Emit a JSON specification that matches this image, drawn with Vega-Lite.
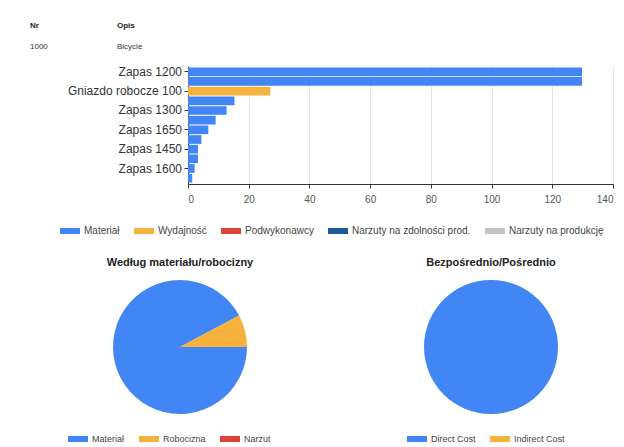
{
  "$schema": "https://vega.github.io/schema/vega-lite/v6.json",
  "background": "white",
  "padding": {"left": 30, "top": 22, "right": 0, "bottom": 0},
  "config": {
    "font": "Liberation Sans",
    "view": {"stroke": null},
    "title": {"font": "Liberation Sans", "fontSize": 11, "fontWeight": "bold", "color": "#222"},
    "legend": {
      "labelFont": "Liberation Sans",
      "labelColor": "#444",
      "symbolType": "M-1,-0.3H1V0.3H-1Z",
      "symbolSize": 400,
      "symbolStrokeWidth": 0,
      "symbolOpacity": 1,
      "labelOffset": 4
    }
  },
  "datasets": {
    "koszty": [
      {"nazwa": "Zapas 1200", "typ": "Materiał", "wartosc": 129.8},
      {"nazwa": "Zapas 1100", "typ": "Materiał", "wartosc": 129.8},
      {"nazwa": "Gniazdo robocze 100", "typ": "Wydajność", "wartosc": 27.1},
      {"nazwa": "Zapas 1700", "typ": "Materiał", "wartosc": 15.3},
      {"nazwa": "Zapas 1300", "typ": "Materiał", "wartosc": 12.7},
      {"nazwa": "Zapas 1800", "typ": "Materiał", "wartosc": 9.1},
      {"nazwa": "Zapas 1650", "typ": "Materiał", "wartosc": 6.7},
      {"nazwa": "Zapas 1400", "typ": "Materiał", "wartosc": 4.4},
      {"nazwa": "Zapas 1450", "typ": "Materiał", "wartosc": 3.3},
      {"nazwa": "Zapas 1500", "typ": "Materiał", "wartosc": 3.3},
      {"nazwa": "Zapas 1600", "typ": "Materiał", "wartosc": 2.2},
      {"nazwa": "Zapas 1900", "typ": "Materiał", "wartosc": 1.4}
    ]
  },
  "spacing": 21,
  "resolve": {
    "scale": {"x": "independent", "y": "independent", "color": "independent", "theta": "independent"},
    "legend": {"color": "independent"}
  },
  "vconcat": [
    {
      "spacing": 14,
      "resolve": {"scale": {"x": "independent", "y": "independent"}},
      "vconcat": [
        {
          "width": 174,
          "height": 21,
          "data": {
            "values": [
              {"kol": "Nr", "wiersz": "nagłówek", "tekst": "Nr"},
              {"kol": "Opis", "wiersz": "nagłówek", "tekst": "Opis"},
              {"kol": "Nr", "wiersz": "wartość", "tekst": "1000"},
              {"kol": "Opis", "wiersz": "wartość", "tekst": "Bicycle"}
            ]
          },
          "encoding": {
            "x": {"field": "kol", "type": "nominal", "bandPosition": 0, "axis": null,
                  "scale": {"type": "band", "domain": ["Nr", "Opis"], "paddingInner": 0, "paddingOuter": 0}},
            "y": {"field": "wiersz", "type": "nominal", "axis": null,
                  "scale": {"type": "point", "domain": ["nagłówek", "wartość"], "padding": 0}},
            "text": {"field": "tekst"}
          },
          "layer": [
            {
              "transform": [{"filter": "datum.wiersz == 'nagłówek'"}],
              "mark": {"type": "text", "align": "left", "baseline": "middle", "fontSize": 8, "fontWeight": "bold", "color": "#222"}
            },
            {
              "transform": [{"filter": "datum.wiersz == 'wartość'"}],
              "mark": {"type": "text", "align": "left", "baseline": "middle", "fontSize": 8, "color": "#333"}
            }
          ]
        },
        {
          "bounds": "flush",
          "spacing": 6,
          "hconcat": [
            {
              "width": 152,
              "height": 118,
              "data": {"name": "koszty"},
              "transform": [
                {"filter": "indexof(['Zapas 1200', 'Gniazdo robocze 100', 'Zapas 1300', 'Zapas 1650', 'Zapas 1450', 'Zapas 1600'], datum.nazwa) >= 0"}
              ],
              "mark": {"type": "text", "align": "right", "baseline": "middle", "fontSize": 12, "color": "#333"},
              "encoding": {
                "x": {"value": "width"},
                "y": {
                  "field": "nazwa", "type": "nominal", "axis": null,
                  "scale": {
                    "domain": ["Zapas 1200", "Zapas 1100", "Gniazdo robocze 100", "Zapas 1700", "Zapas 1300", "Zapas 1800", "Zapas 1650", "Zapas 1400", "Zapas 1450", "Zapas 1500", "Zapas 1600", "Zapas 1900"],
                    "type": "band", "paddingInner": 0.1, "paddingOuter": 0.15
                  }
                },
                "text": {"field": "nazwa"}
              }
            },
            {
              "width": 425,
              "height": 118,
              "data": {"name": "koszty"},
              "mark": {"type": "bar"},
              "encoding": {
                "y": {
                  "field": "nazwa", "type": "nominal", "title": null,
                  "scale": {
                    "domain": ["Zapas 1200", "Zapas 1100", "Gniazdo robocze 100", "Zapas 1700", "Zapas 1300", "Zapas 1800", "Zapas 1650", "Zapas 1400", "Zapas 1450", "Zapas 1500", "Zapas 1600", "Zapas 1900"],
                    "type": "band", "paddingInner": 0.1, "paddingOuter": 0.15
                  },
                  "axis": {
                    "labels": false,
                    "domainColor": "#333", "tickColor": "#333", "tickSize": 4,
                    "tickOpacity": {
                      "condition": {"test": "indexof(['Zapas 1200', 'Gniazdo robocze 100', 'Zapas 1300', 'Zapas 1650', 'Zapas 1450', 'Zapas 1600'], datum.value) >= 0", "value": 1},
                      "value": 0
                    }
                  }
                },
                "x": {
                  "field": "wartosc", "type": "quantitative", "title": null,
                  "scale": {"domain": [0, 140], "nice": false},
                  "axis": {
                    "values": [0, 20, 40, 60, 80, 100, 120, 140],
                    "labelFontSize": 10, "labelColor": "#555", "labelPadding": 6,
                    "domainColor": "#333", "tickColor": "#333", "tickSize": 4,
                    "gridColor": "#e2e2e2"
                  }
                },
                "color": {
                  "field": "typ", "type": "nominal",
                  "scale": {
                    "domain": ["Materiał", "Wydajność", "Podwykonawcy", "Narzuty na zdolności prod.", "Narzuty na produkcję"],
                    "range": ["#4285f4", "#f6b23c", "#db4437", "#1a5a96", "#c4c4c4"]
                  },
                  "legend": {
                    "title": null, "orient": "none", "direction": "horizontal",
                    "legendX": 30, "legendY": 195,
                    "labelFontSize": 10, "columnPadding": 14
                  }
                }
              }
            }
          ]
        }
      ]
    },
    {
      "spacing": 61,
      "resolve": {"scale": {"color": "independent", "theta": "independent"}, "legend": {"color": "independent"}},
      "hconcat": [
        {
          "width": 300,
          "height": 134,
          "title": {"text": "Według materiału/robocizny", "offset": 12},
          "data": {
            "values": [
              {"rodzaj": "Materiał", "wartosc": 92.2},
              {"rodzaj": "Robocizna", "wartosc": 7.8},
              {"rodzaj": "Narzut", "wartosc": 0}
            ]
          },
          "mark": {"type": "arc"},
          "encoding": {
            "theta": {"field": "wartosc", "type": "quantitative", "scale": {"range": [1.5708, 7.854]}},
            "color": {
              "field": "rodzaj", "type": "nominal",
              "scale": {"domain": ["Materiał", "Robocizna", "Narzut"], "range": ["#4285f4", "#f6b23c", "#db4437"]},
              "legend": {"title": null, "orient": "none", "direction": "horizontal", "legendX": 38, "legendY": 149, "labelFontSize": 9, "columnPadding": 14}
            }
          }
        },
        {
          "width": 200,
          "height": 134,
          "title": {"text": "Bezpośrednio/Pośrednio", "offset": 12},
          "data": {
            "values": [
              {"rodzaj": "Direct Cost", "wartosc": 100},
              {"rodzaj": "Indirect Cost", "wartosc": 0}
            ]
          },
          "mark": {"type": "arc"},
          "encoding": {
            "theta": {"field": "wartosc", "type": "quantitative"},
            "color": {
              "field": "rodzaj", "type": "nominal",
              "scale": {"domain": ["Direct Cost", "Indirect Cost"], "range": ["#4285f4", "#f6b23c"]},
              "legend": {"title": null, "orient": "none", "direction": "horizontal", "legendX": 16, "legendY": 149, "labelFontSize": 9, "columnPadding": 14}
            }
          }
        }
      ]
    }
  ]
}
